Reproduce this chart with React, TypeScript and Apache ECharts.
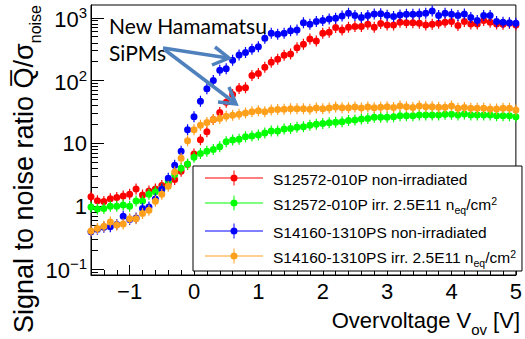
import React, { useEffect, useRef } from "react";
import * as echarts from "echarts";

const voltage = [-1.6, -1.5, -1.4, -1.3, -1.2, -1.1, -1.0, -0.9, -0.8, -0.7, -0.6, -0.5, -0.4, -0.3, -0.2, -0.1,
  0.0, 0.1, 0.2, 0.3, 0.4, 0.5, 0.6, 0.7, 0.8, 0.9,
  1.0, 1.1, 1.2, 1.3, 1.4, 1.5, 1.6, 1.7, 1.8, 1.9,
  2.0, 2.1, 2.2, 2.3, 2.4, 2.5, 2.6, 2.7, 2.8, 2.9,
  3.0, 3.1, 3.2, 3.3, 3.4, 3.5, 3.6, 3.7, 3.8, 3.9,
  4.0, 4.1, 4.2, 4.3, 4.4, 4.5, 4.6, 4.7, 4.8, 4.9, 5.0];

const s12572NonIrr = [1.41, 1.22, 1.19, 1.31, 1.37, 1.45, 1.55, 1.88, 1.50, 1.74, 1.88, 2.14, 2.3, 2.65, 3.6, 4.6,
  6.8, 11.4, 15.3, 24, 31, 45, 60, 75, 77, 120,
  130, 163, 196, 218, 253, 266, 335, 379, 460, 428,
  568, 589, 699, 641, 708, 725, 725, 790, 708, 810,
  770, 771, 850, 838, 838, 820, 771, 790, 820, 850,
  871, 751, 871, 800, 800, 903, 850, 800, 790, 820, 771];

const s12572Irr = [0.97, 0.90, 0.92, 1.0, 1.0, 1.04, 1.0, 1.21, 1.21, 1.55, 1.69, 1.88, 2.5, 3.2, 4.0, 4.7,
  6.0, 6.9, 7.5, 8.0, 8.8, 10.6, 11.3, 11.6, 12.7, 13.1,
  13.6, 14.6, 15.7, 15.7, 16.9, 17.3, 18.0, 18.4, 19.4, 20.1,
  20.8, 21.3, 21.6, 22.1, 23.2, 23.5, 24.4, 25, 26, 26,
  26, 26.6, 27.5, 27.5, 27.5, 28.2, 28.2, 28.2, 28.2, 29,
  29, 28.2, 29.3, 28.2, 28.2, 28.2, 28.2, 27.5, 27.5, 27.5, 26.6];

const s14160NonIrr = [0.39, 0.43, 0.46, 0.47, 0.51, 0.69, 0.61, 0.65, 0.92, 0.97, 1.3, 1.85, 2.77, 4.5, 7.5, 16.5,
  26.5, 47, 74, 100, 146, 155, 210, 255, 280, 315,
  345, 472, 568, 547, 568, 625, 641, 838, 790, 871,
  903, 960, 985, 1072, 1183, 1084, 1008, 1084, 1153, 1160,
  1100, 1045, 1112, 1141, 1141, 1153, 1183, 1288, 1084, 1183,
  1141, 1084, 1153, 1008, 903, 1084, 1084, 871, 850, 838, 820];

const s14160Irr = [0.40, 0.44, 0.48, 0.56, 0.50, 0.52, 0.63, 0.63, 0.76, 0.86, 1.20, 1.55, 2.08, 3.5, 5.8, 11,
  16.5, 19.5, 21.5, 24, 25, 27, 28, 29, 30.5, 32,
  33, 32, 34, 34.5, 35, 35.5, 35.5, 35.5, 35, 36.5,
  35.5, 36.5, 38, 37, 37, 38, 36.5, 38, 37, 37.5,
  38.4, 37.1, 39.3, 38.4, 37.1, 39.3, 38.4, 38.4, 37.5, 37.5,
  39.3, 36.1, 37.1, 36.1, 36.1, 36.1, 35.3, 35.3, 36.1, 36.1, 34];

const seriesNames = [
  "S12572-010P non-irradiated",
  "S12572-010P irr. 2.5E11 neq/cm2",
  "S14160-1310PS non-irradiated",
  "S14160-1310PS irr. 2.5E11 neq/cm2",
];
const legendRich = [
  "{m|S12572-010P non-irradiated}",
  "{m|S12572-010P irr. 2.5E11 n}{sb|eq}{m|/cm}{sp|2}",
  "{m|S14160-1310PS non-irradiated}",
  "{m|S14160-1310PS irr. 2.5E11 n}{sb|eq}{m|/cm}{sp|2}",
];
const seriesColors = ["#ff0000", "#00ff00", "#0000ff", "#ffa01c"];
const seriesValues = [s12572NonIrr, s12572Irr, s14160NonIrr, s14160Irr];

const xMajorTicks = [-1, 0, 1, 2, 3, 4, 5];
const yMajorTicks = [0.1, 1, 10, 100, 1000];
const yMinorTicks = [0.09, 0.2, 0.3, 0.4, 0.5, 0.6, 0.7, 0.8, 0.9, 2, 3, 4, 5, 6, 7, 8, 9,
  20, 30, 40, 50, 60, 70, 80, 90, 200, 300, 400, 500, 600, 700, 800, 900];

const FONT = "'Liberation Sans', Arial, Helvetica, sans-serif";
const MARKER = "path://M-0.6,-5.5L0.6,-5.5L0.6,5.5L-0.6,5.5Z M3.5,0A3.5,3.5,0,1,1,-3.5,0A3.5,3.5,0,1,1,3.5,0Z";
const LEGEND_ICON = "path://M0,7L58,7L58,8L0,8Z M28.5,0L29.5,0L29.5,15L28.5,15Z M32.5,7.5A3.5,3.5,0,1,1,25.5,7.5A3.5,3.5,0,1,1,32.5,7.5Z";
const ARROW = "#4f81bd";

export default function App() {
  const ref = useRef<HTMLDivElement>(null);
  useEffect(() => {
    if (!ref.current) return;
    const chart = echarts.init(ref.current, undefined, { renderer: "svg" });
    const option: any = {
      animation: false,
      backgroundColor: "#ffffff",
      grid: { left: 91, right: 5, top: 5, bottom: 64, show: true, borderColor: "#000", borderWidth: 1, backgroundColor: "transparent" },
      xAxis: [
        {
          type: "value", min: -1.6, max: 5, interval: 0.2,
          axisLine: { show: true, onZero: false, lineStyle: { color: "#000", width: 1 } },
          axisTick: { show: true, inside: true, length: 5, lineStyle: { color: "#000" } },
          axisLabel: {
            show: true, customValues: xMajorTicks, fontSize: 22, fontFamily: FONT, color: "#000", margin: 5,
            formatter: (v: number) => (v < 0 ? "\u2212" + Math.abs(v) : String(v)),
          },
          splitLine: { show: false },
        },
        {
          type: "value", min: -1.6, max: 5, position: "bottom",
          axisLine: { show: false, onZero: false },
          axisTick: { show: true, inside: true, length: 10, customValues: xMajorTicks, lineStyle: { color: "#000" } },
          axisLabel: { show: false },
          splitLine: { show: false },
        },
      ],
      yAxis: [
        {
          type: "log", min: 0.08, max: 1600,
          axisLine: { show: true, onZero: false, lineStyle: { color: "#000", width: 1 } },
          axisTick: { show: true, inside: true, length: 13, customValues: yMajorTicks, lineStyle: { color: "#000" } },
          axisLabel: {
            show: true, customValues: yMajorTicks, fontSize: 22, fontFamily: FONT, color: "#000", margin: 4,
            formatter: (v: number) => {
              const e = Math.round(Math.log10(v));
              if (e === 0) return "1";
              if (e === 1) return "10";
              return "{b|10}{s|" + (e < 0 ? "\u2212" + Math.abs(e) : String(e)) + "}";
            },
            rich: {
              b: { fontSize: 22, fontFamily: FONT, color: "#000", verticalAlign: "top", padding: [4, 0, 0, 0] },
              s: { fontSize: 15, fontFamily: FONT, color: "#000", verticalAlign: "top" },
            },
          },
          splitLine: { show: false },
        },
        {
          type: "log", min: 0.08, max: 1600, position: "left",
          axisLine: { show: false, onZero: false },
          axisTick: { show: true, inside: true, length: 7, customValues: yMinorTicks, lineStyle: { color: "#000" } },
          axisLabel: { show: false },
          splitLine: { show: false },
        },
      ],
      legend: {
        orient: "vertical", left: 193, top: 166, padding: [3, 6, 3, 12], itemGap: 7,
        itemWidth: 58, itemHeight: 15, icon: LEGEND_ICON, selectedMode: false,
        backgroundColor: "#fff", borderColor: "#000", borderWidth: 1,
        data: seriesNames,
        formatter: (name: string) => legendRich[seriesNames.indexOf(name)],
        textStyle: {
          fontSize: 15.5, fontFamily: FONT, color: "#000", lineHeight: 18, padding: [0, 0, 0, 5],
          rich: {
            m: { fontSize: 15.5, fontFamily: FONT, color: "#000", verticalAlign: "top", padding: [2, 0, 0, 0], lineHeight: 18 },
            sb: { fontSize: 10.5, fontFamily: FONT, color: "#000", verticalAlign: "top", padding: [10, 0, 0, 0], lineHeight: 18 },
            sp: { fontSize: 10.5, fontFamily: FONT, color: "#000", verticalAlign: "top", padding: [1, 0, 0, 0], lineHeight: 18 },
          },
        },
        z: 20,
      },
      series: seriesValues.map((vals, k) => ({
        name: seriesNames[k],
        type: "scatter",
        xAxisIndex: 0,
        yAxisIndex: 0,
        symbol: MARKER,
        symbolSize: [7, 11],
        clip: false,
        itemStyle: { color: seriesColors[k], opacity: 1 },
        data: voltage.map((v, i) => [v, vals[i]]),
        z: 3 + k,
      })),
      graphic: [
        {
          type: "text", x: 10, y: 5, rotation: Math.PI / 2, z: 50,
          style: {
            text: "{m|Signal to noise ratio Q\u0305/\u03c3}{s|noise}",
            textAlign: "right", textVerticalAlign: "top",
            rich: {
              m: { fontSize: 27, fontFamily: FONT, fill: "#000", verticalAlign: "top" },
              s: { fontSize: 16, fontFamily: FONT, fill: "#000", verticalAlign: "top", padding: [17, 0, 0, 0] },
            },
          },
        },
        {
          type: "text", x: 520, y: 309, z: 50,
          style: {
            text: "{m|Overvoltage V}{s|ov}{m| [V]}",
            textAlign: "right", textVerticalAlign: "top",
            rich: {
              m: { fontSize: 22, fontFamily: FONT, fill: "#000", verticalAlign: "top" },
              s: { fontSize: 15, fontFamily: FONT, fill: "#000", verticalAlign: "top", padding: [13, 0, 0, 0] },
            },
          },
        },
        {
          type: "text", x: 109, y: 25, z: 50,
          style: { text: "New Hamamatsu", fontFamily: "Lato", fontSize: 21, fill: "#000", textAlign: "left", textVerticalAlign: "middle" },
        },
        {
          type: "text", x: 109, y: 52, z: 50,
          style: { text: "SiPMs", fontFamily: "Lato", fontSize: 21, fill: "#000", textAlign: "left", textVerticalAlign: "middle" },
        },
        { type: "line", z: 60, shape: { x1: 163, y1: 48, x2: 228, y2: 58 }, style: { stroke: ARROW, lineWidth: 3.5 } },
        { type: "polyline", z: 60, shape: { points: [[215, 47], [229, 58], [212, 65]] }, style: { stroke: ARROW, lineWidth: 3.5, fill: null } },
        { type: "line", z: 60, shape: { x1: 165, y1: 50, x2: 235, y2: 103 }, style: { stroke: ARROW, lineWidth: 3.5 } },
        { type: "polyline", z: 60, shape: { points: [[229, 87], [236, 104], [218, 102]] }, style: { stroke: ARROW, lineWidth: 3.5, fill: null } },
      ],
    };
    chart.setOption(option);
    return () => chart.dispose();
  }, []);
  return (
    <div
      ref={ref}
      style={{ position: "fixed", left: 0, top: 0, width: 525, height: 339, background: "#fff" }}
    />
  );
}
